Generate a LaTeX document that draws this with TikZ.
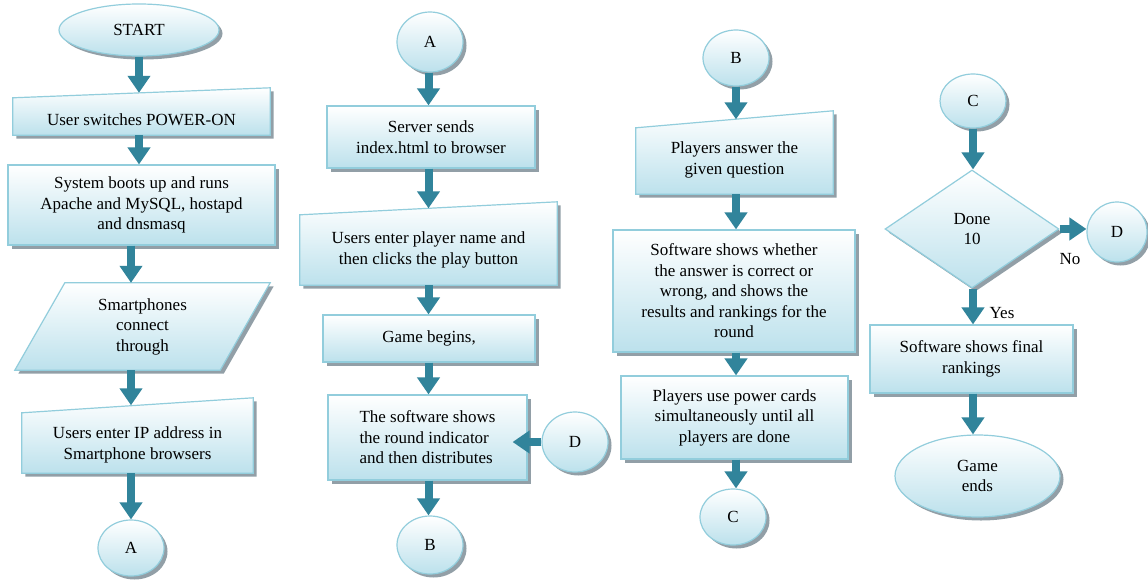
\documentclass[tikz,border=0pt]{standalone}
\usepackage{fontspec}
\setmainfont{Liberation Serif}
\usetikzlibrary{shapes.geometric,shadows,arrows.meta,calc}
\pgfdeclarelayer{shapes}
\pgfsetlayers{shapes,main}
\definecolor{bordc}{RGB}{146,205,220}
\definecolor{fillc}{RGB}{188,225,236}
\definecolor{shadc}{RGB}{110,128,138}
\definecolor{arrc}{RGB}{49,132,155}
\begin{document}
\begin{tikzpicture}[x=1pt,y=-1pt,
  shp/.style={draw=bordc, line width=1.2pt, top color=white, bottom color=fillc,
    drop shadow={shadow xshift=3.5pt, shadow yshift=-3.5pt, fill=shadc, opacity=0.75}},
  txt/.style={font=\fontsize{17}{20.5}\selectfont, align=center, inner sep=0pt, text=black},
  rbox/.style={shp, txt, rectangle},
  oval/.style={shp, txt, ellipse},
  dia/.style={shp, txt, diamond},
  arr/.style={line width=8pt, draw=arrc, -{Triangle[width=22pt,length=17pt]}}]
\begin{pgfonlayer}{shapes}
\fill[white] (0,0) rectangle (1148,581);
\end{pgfonlayer}
\useasboundingbox (0,0) rectangle (1148,581);

% column 1
\node[oval, minimum width=160pt, minimum height=52pt] (start) at (139,30) {START};
\node[txt, minimum width=257pt, minimum height=42pt] (p1) at (141.5,114) {};
\node[txt] (p1t) at (141.5,120) {User switches POWER-ON};
\node[rbox, minimum width=267pt, minimum height=80pt] (p2) at (141.5,205) {System boots up and runs\\Apache and MySQL, hostapd\\and dnsmasq};
\node[txt, minimum width=205pt, minimum height=87pt] (p3) at (142.5,326.5) {Smartphones\\connect\\through};
\node[txt, minimum width=231pt, minimum height=67.5pt] (p4) at (137.5,439.25) {};
\node[txt] (p4t) at (137.5,445) {Users enter IP address in\\Smartphone browsers};
\node[oval, minimum width=66pt, minimum height=56pt] (a1) at (131,548) {A};

% column 2
\node[oval, minimum width=66pt, minimum height=60pt] (a2) at (430,42) {A};
\node[rbox, minimum width=208pt, minimum height=62pt] (s1) at (431,137) {Server sends\\index.html to browser};
\node[txt, minimum width=257pt, minimum height=76.5pt] (s2) at (428.5,246.75) {};
\node[txt] (s2t) at (428.5,250) {Users enter player name and\\then clicks the play button};
\node[rbox, minimum width=212pt, minimum height=47pt] (s3) at (429,338.5) {Game begins,};
\node[rbox, minimum width=199pt, minimum height=85pt, align=left] (s4) at (427.5,437.5) {The software shows\\the round indicator\\and then distributes};
\node[oval, minimum width=66pt, minimum height=60pt] (d1) at (575,442) {D};
\node[oval, minimum width=66pt, minimum height=58pt] (b1) at (430,545) {B};

% column 3
\node[oval, minimum width=66pt, minimum height=56pt] (b2) at (736,58) {B};
\node[txt, minimum width=197pt, minimum height=74.5pt] (q1) at (734.5,156.75) {};
\node[txt] (q1t) at (734.5,160) {Players answer the\\given question};
\node[rbox, minimum width=242pt, minimum height=122pt] (q2) at (734,291) {Software shows whether\\the answer is correct or\\wrong, and shows the\\results and rankings for the\\round};
\node[rbox, minimum width=227pt, minimum height=83pt] (q3) at (734.5,417.5) {Players use power cards\\simultaneously until all\\players are done};
\node[oval, minimum width=66pt, minimum height=56pt] (c1) at (733,517) {C};

% column 4
\node[oval, minimum width=66pt, minimum height=54pt] (c2) at (973,101) {C};
\node[dia, minimum width=174pt, minimum height=118pt] (dn) at (972,229) {Done\\10};
\node[oval, minimum width=60pt, minimum height=60pt] (d2) at (1117,232) {D};
\node[rbox, minimum width=203pt, minimum height=68pt] (fin) at (971.5,359) {Software shows final\\rankings};
\node[oval, minimum width=165pt, minimum height=82pt] (gend) at (977.5,476) {Game\\ends};
\node[txt] (no) at (1070,259) {No};
\node[txt] (yes) at (1002,313) {Yes};

% custom outlines
\begin{pgfonlayer}{shapes}
\path[shp] (p1.south west) -- (p1.south east) -- ($(p1.north east)+(0,-5)$) -- ($(p1.north west)+(0,5)$) -- cycle;
\path[shp] ($(p3.south west)+(-25,0)$) -- ($(p3.south east)+(-25,0)$) -- ($(p3.north east)+(25,0)$) -- ($(p3.north west)+(25,0)$) -- cycle;
\path[shp] (p4.south west) -- (p4.south east) -- ($(p4.north east)+(0,-7.5)$) -- ($(p4.north west)+(0,7.5)$) -- cycle;
\path[shp] (s2.south west) -- (s2.south east) -- ($(s2.north east)+(0,-6.5)$) -- ($(s2.north west)+(0,6.5)$) -- cycle;
\path[shp] (q1.south west) -- (q1.south east) -- ($(q1.north east)+(0,-8.5)$) -- ($(q1.north west)+(0,8.5)$) -- cycle;
\end{pgfonlayer}

% connectors
\draw[arr] (start.south) -- (start.south |- p1.north);
\draw[arr] (p1.south -| start) -- (p2.north -| start);
\draw[arr] (p2.south -| a1) -- (p3.north -| a1);
\draw[arr] (p3.south -| a1) -- (p4.north -| a1);
\draw[arr] (p4.south -| a1) -- (a1.north);

\draw[arr] (a2.south -| s2) -- (s1.north -| s2);
\draw[arr] (s1.south -| s2) -- (s2.north -| s2);
\draw[arr] (s2.south) -- (s3.north -| s2);
\draw[arr] (s3.south -| s2) -- (s4.north -| s2);
\draw[arr] (s4.south -| s2) -- (b1.north -| s2);
\draw[arr, shorten >=-15pt] (d1.west) -- (s4.east |- d1.west);

\draw[arr] (b2.south) -- (q1.north -| b2);
\draw[arr] (q1.south -| b2) -- (q2.north -| b2);
\draw[arr] (q2.south -| b2) -- (q3.north -| b2);
\draw[arr] (q3.south -| b2) -- (c1.north -| b2);

\draw[arr] (c2.south) -- (dn.north -| c2);
\draw[arr] (dn.east) -- (d2.west |- dn.east);
\draw[arr] (dn.south -| c2) -- (fin.north -| c2);
\draw[arr] (fin.south -| c2) -- (gend.north -| c2);
\end{tikzpicture}
\end{document}
